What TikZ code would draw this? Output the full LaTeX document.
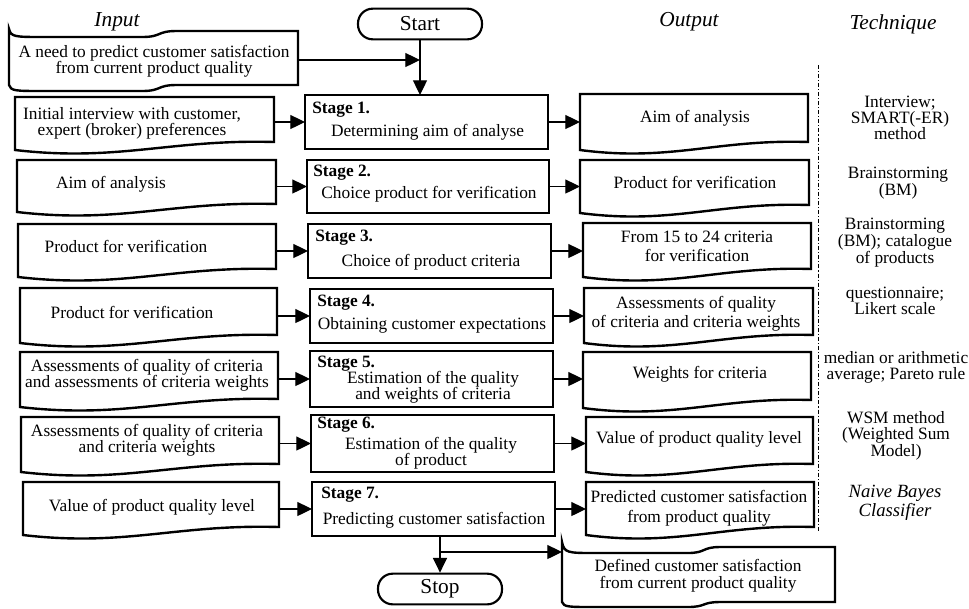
\documentclass[tikz,border=0pt]{standalone}
\usepackage{fontspec}
\setmainfont{Liberation Serif}
\usetikzlibrary{arrows.meta,calc,fit}
\tikzset{
 shp/.style={line width=1.8pt, line join=miter},
 docfit/.style={inner sep=0pt, outer sep=0pt},
 stagebox/.style={draw, line width=1.8pt, inner sep=0pt, outer sep=0pt},
 term/.style={draw, line width=1.6pt, rounded corners=11pt, minimum width=93pt, minimum height=23pt, inner sep=0pt, font=\fontsize{16}{18}\selectfont},
 txt/.style={font=\fontsize{13}{12}\selectfont, align=center, inner sep=0pt},
 stg/.style={font=\fontsize{13}{12}\selectfont\bfseries, inner sep=0pt, anchor=west},
 hdr/.style={font=\fontsize{16}{18}\selectfont\itshape, inner sep=0pt},
 tech/.style={font=\fontsize{13}{11.8}\selectfont, align=center, inner sep=0pt},
 arr/.style={line width=0.9pt, -{Triangle[length=11pt,width=10.5pt]}},
 sep/.style={line width=0.6pt, dash pattern=on 3pt off 1.5pt on 0.8pt off 1.5pt},
}
\newcommand{\docshape}[1]{%
 \draw[shp] (#1.south west) -- (#1.north west) -- (#1.north east) -- ($(#1.south east)+(0,-8)$)
 .. controls ($(#1.south west)!0.6!(#1.south east)+(0,-11)$) and ($(#1.south west)!0.4!(#1.south east)+(0,12)$) .. (#1.south west) -- cycle;}
\newcommand{\tapeshape}[4]{%
 \draw[shp] (#1.north west)
  .. controls ($(#1.north west)+(2,#2)$) and ($(#1.north west)+(6,#2)$) .. ($(#1.north west)!0.12!(#1.north east)+(0,#2)$)
  -- ($(#1.north west)!0.46!(#1.north east)+(0,#2)$)
  .. controls ($(#1.north west)!0.53!(#1.north east)+(0,#2)$) and ($(#1.north west)!0.51!(#1.north east)+(0,#3)$) .. ($(#1.north west)!0.58!(#1.north east)+(0,#3)$)
  -- ($(#1.north east)+(0,#3)$)
  -- ($(#1.south east)+(0,-#4)$)
  -- ($(#1.south west)!0.58!(#1.south east)+(0,-#4)$)
  .. controls ($(#1.south west)!0.51!(#1.south east)+(0,-#4)$) and ($(#1.south west)!0.53!(#1.south east)$) .. ($(#1.south west)!0.46!(#1.south east)$)
  -- ($(#1.south west)!0.12!(#1.south east)$)
  .. controls ($(#1.south west)+(6,0)$) and ($(#1.south west)+(2,0)$) .. ($(#1.south west)+(0,-#4)$)
  -- cycle;}
\begin{document}
\begin{tikzpicture}[x=0.75pt,y=-0.75pt]
\fill[white] (0,0) rectangle (969,608);
\useasboundingbox (0,0) rectangle (969,608);

% headers
\node[hdr] (hin) at (117,22) {Input};
\node[hdr] (hout) at (689,22) {Output};
\node[hdr] (htech) at (893,24) {Technique};

% terminals
\node[term] (start) at (420,24) {Start};
\node[term] (stop) at (440,589) {Stop};

% first input tape
\node[docfit, fit={(9,29) (298,91)}] (doc0) {};
\tapeshape{doc0}{8}{2}{6}
\node[txt] (doc0t) at (154,61) {A need to predict customer satisfaction\\from current product quality};

% stage boxes
\node[stagebox, fit={(305,95) (548,149)}] (s1) {};
\node[stagebox, fit={(307,160) (549,213)}] (s2) {};
\node[stagebox, fit={(308,224) (551,278)}] (s3) {};
\node[stagebox, fit={(310,289) (553,343)}] (s4) {};
\node[stagebox, fit={(310,351) (553,407)}] (s5) {};
\node[stagebox, fit={(311,415) (554,472)}] (s6) {};
\node[stagebox, fit={(312,482) (555,536)}] (s7) {};

\node[stg] (s1a) at (312,110) {Stage 1.};
\node[txt] (s1b) at (427.5,132) {Determining aim of analyse};
\node[stg] (s2a) at (313,173) {Stage 2.};
\node[txt] (s2b) at (429,194) {Choice product for verification};
\node[stg] (s3a) at (315,238) {Stage 3.};
\node[txt] (s3b) at (431,262) {Choice of product criteria};
\node[stg] (s4a) at (317,303) {Stage 4.};
\node[txt] (s4b) at (432,325) {Obtaining customer expectations};
\node[stg] (s5a) at (317,364) {Stage 5.};
\node[txt] (s5b) at (433,387.5) {Estimation of the quality\\and weights of criteria};
\node[stg] (s6a) at (317,425) {Stage 6.};
\node[txt] (s6b) at (431,453.5) {Estimation of the quality\\of product};
\node[stg] (s7a) at (321,495) {Stage 7.};
\node[txt] (s7b) at (434,520) {Predicting customer satisfaction};

% input documents
\node[docfit, fit={(15,97) (274,150)}] (in1) {};
\node[docfit, fit={(17,160) (276,212)}] (in2) {};
\node[docfit, fit={(18,224) (276,277)}] (in3) {};
\node[docfit, fit={(20,288) (277,343)}] (in4) {};
\node[docfit, fit={(20,352) (278,407)}] (in5) {};
\node[docfit, fit={(21,417) (279,472)}] (in6) {};
\node[docfit, fit={(23,482) (279,535)}] (in7) {};
\docshape{in1}\docshape{in2}\docshape{in3}\docshape{in4}\docshape{in5}\docshape{in6}\docshape{in7}
\node[txt] (in1t) at (132,123) {Initial interview with customer,\\expert (broker) preferences};
\node[txt] (in2t) at (111,184) {Aim of analysis};
\node[txt] (in3t) at (126,246) {Product for verification};
\node[txt] (in4t) at (132,312) {Product for verification};
\node[txt] (in5t) at (147,375) {Assessments of quality of criteria\\and assessments of criteria weights};
\node[txt] (in6t) at (147,440.5) {Assessments of quality of criteria\\and criteria weights};
\node[txt] (in7t) at (152,507) {Value of product quality level};

% output documents
\node[docfit, fit={(580,94) (808,150)}] (o1) {};
\node[docfit, fit={(580,160) (809,213)}] (o2) {};
\node[docfit, fit={(583,223) (811,277)}] (o3) {};
\node[docfit, fit={(584,288) (813,343)}] (o4) {};
\node[docfit, fit={(583,352) (811,408)}] (o5) {};
\node[docfit, fit={(586,417) (813,472)}] (o6) {};
\node[docfit, fit={(586,482) (814,535)}] (o7) {};
\docshape{o1}\docshape{o2}\docshape{o3}\docshape{o4}\docshape{o5}\docshape{o6}\docshape{o7}
\node[txt] (o1t) at (695,118) {Aim of analysis};
\node[txt] (o2t) at (695,182) {Product for verification};
\node[txt] (o3t) at (697,246.5) {From 15 to 24 criteria\\[2pt]for verification};
\node[txt] (o4t) at (696,313.5) {Assessments of quality\\[2pt]of criteria and criteria weights};
\node[txt] (o5t) at (700,374) {Weights for criteria};
\node[txt] (o6t) at (699,439) {Value of product quality level};
\node[txt] (o7t) at (699,508) {Predicted customer satisfaction\\[3pt]from product quality};

% final tape
\node[docfit, fit={(562,542) (835,607)}] (fin) {};
\tapeshape{fin}{11}{5}{5}
\node[txt] (fint) at (698,576) {Defined customer satisfaction\\[1pt]from current product quality};

% technique column
\node[tech] (t1) at (900,117.7) {Interview;\\SMART(-ER)\\method};
\node[tech] (t2) at (898,183.5) {Brainstorming\\(BM)};
\node[tech] (t3) at (895,242.7) {Brainstorming\\(BM); catalogue\\of products};
\node[tech] (t4) at (895,300.5) {questionnaire;\\Likert scale};
\node[tech] (t5) at (896,367.5) {median or arithmetic\\average; Pareto rule};
\node[tech] (t6) at (896,436) {WSM method\\(Weighted Sum\\Model)};
\node[tech, font=\fontsize{14}{14}\selectfont\itshape] (t7) at (895,502.5) {Naive Bayes\\Classifier};

% separator
\coordinate (sepA) at (818,65);
\coordinate (sepB) at (818,532);
\draw[sep] (sepA) -- (sepB);

% connectors
\draw[arr] (doc0.east) -- (doc0.east -| start.south);
\draw[arr] (start.south) -- (start.south |- s1.north);
\foreach \k in {1,...,7} {
  \draw[arr] (in\k.east |- s\k.west) -- (s\k.west);
  \draw[arr] (s\k.east) -- (s\k.east -| o\k.west);
}
\draw[arr] (s7.south -| stop.north) -- (stop.north);
\coordinate (br) at (440,552);
\draw[arr] (br) -- (br -| fin.west);
\end{tikzpicture}
\end{document}
